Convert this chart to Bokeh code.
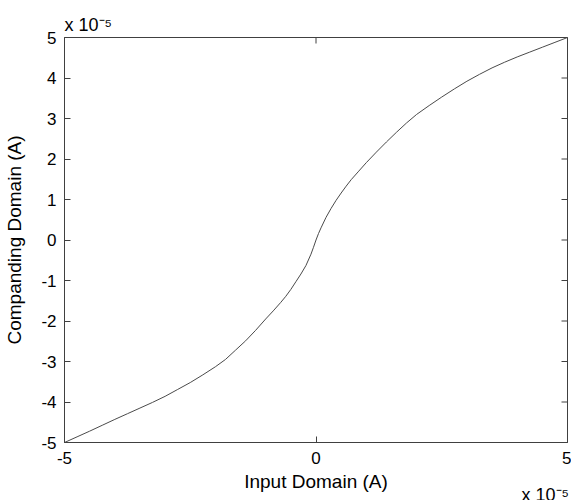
import math
from bokeh.plotting import figure
from bokeh.models import LinearAxis, Range1d, FixedTicker, Title
from bokeh.embed import file_html
from bokeh.resources import INLINE

# values in units of 1e-5 A (axes carry the "x 10^-5" multiplier)
input_domain = [-5.0, -4.75, -4.5, -4.25, -4.0, -3.75, -3.5, -3.25, -3.0, -2.75, -2.5,
                -2.25, -2.0, -1.8, -1.6, -1.4, -1.2, -1.0, -0.85, -0.7, -0.6, -0.5,
                -0.4, -0.3, -0.2, -0.1, -0.05, 0.0,
                0.05, 0.1, 0.2, 0.3, 0.4, 0.5, 0.6, 0.7, 0.85, 1.0, 1.2, 1.4,
                1.6, 1.8, 2.0, 2.25, 2.5, 2.75, 3.0, 3.25, 3.5, 3.75, 4.0,
                4.25, 4.5, 4.75, 5.0]
companding_domain = [-5.0, -4.86, -4.72, -4.575, -4.43, -4.29, -4.15, -4.01, -3.86, -3.69, -3.52,
                     -3.33, -3.13, -2.95, -2.72, -2.49, -2.23, -1.95, -1.75, -1.54, -1.39, -1.22,
                     -1.03, -0.84, -0.63, -0.35, -0.18, 0.0,
                     0.16, 0.30, 0.56, 0.78, 0.98, 1.16, 1.33, 1.49, 1.70, 1.91, 2.17, 2.42,
                     2.66, 2.89, 3.10, 3.32, 3.53, 3.73, 3.92, 4.09, 4.25, 4.39, 4.52,
                     4.64, 4.76, 4.88, 5.0]
tick_values = [-5, -4, -3, -2, -1, 0, 1, 2, 3, 4, 5]
x_tick_values = [-5, 0, 5]
multiplier = "x 10\u207b\u2075"
x_label = "Input Domain (A)"
y_label = "Companding Domain (A)"

FONT = "Liberation Sans"
AX = "#404040"

p = figure(width=571, height=500, output_backend="svg", toolbar_location=None,
           x_range=Range1d(-5, 5), y_range=Range1d(-5, 5),
           x_axis_location=None, y_axis_location=None,
           min_border_left=64, min_border_right=4, min_border_top=37, min_border_bottom=58)
p.grid.visible = False
p.outline_line_color = AX
p.outline_line_width = 1
p.background_fill_color = "white"
p.border_fill_color = "white"

def make_axis(ticks, label):
    ax = LinearAxis(ticker=FixedTicker(ticks=ticks))
    ax.major_label_overrides = {t: str(t) for t in ticks}
    ax.axis_line_color = AX
    ax.major_tick_line_color = AX
    ax.major_tick_in = 6
    ax.major_tick_out = 0
    ax.minor_tick_line_color = None
    ax.major_label_text_font = FONT
    ax.major_label_text_color = "black"
    ax.major_label_text_font_size = "17px"
    ax.axis_label = label
    ax.axis_label_text_font = FONT
    ax.axis_label_text_font_size = "19px"
    ax.axis_label_text_font_style = "normal"
    ax.axis_label_text_color = "black"
    return ax

xb = make_axis(x_tick_values, x_label)
xb.major_label_standoff = 9
xb.axis_label_standoff = 4
yl = make_axis(tick_values, y_label)
yl.major_label_standoff = 8
yl.axis_label_standoff = 13
p.add_layout(xb, "below")
p.add_layout(yl, "left")

# inward tick marks on the top and right edges of the box (clipped to the frame)
p.scatter(x=[5] * len(tick_values), y=tick_values, marker="dash", size=12,
          line_color=AX, line_width=1)
p.scatter(x=x_tick_values, y=[5] * len(x_tick_values), marker="dash", angle=math.pi / 2,
          size=12, line_color=AX, line_width=1)

p.line(input_domain, companding_domain, line_color="#4a4a4a", line_width=1)

# multiplier annotations
p.title.text = multiplier
p.title.align = "left"
p.title.offset = 0
p.title.text_font = FONT
p.title.text_font_size = "18px"
p.title.text_font_style = "normal"
p.title.text_color = "black"
p.title.standoff = 6

bottom_mult = Title(text=multiplier, align="left", offset=457, text_font=FONT,
                    text_font_size="18px", text_font_style="normal", text_color="black",
                    standoff=-21, vertical_align="middle")
p.add_layout(bottom_mult, "below")

open("out.html", "w").write(file_html(p, INLINE))
